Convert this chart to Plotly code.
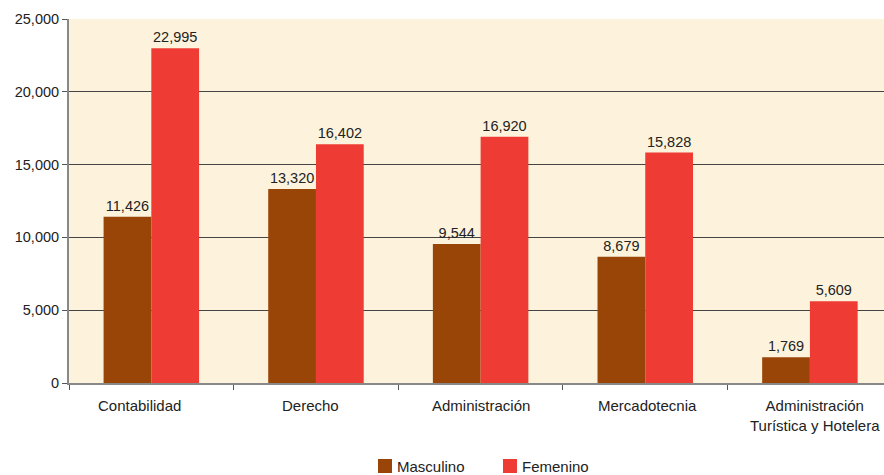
import plotly.graph_objects as go

categories = ["Contabilidad", "Derecho", "Administración", "Mercadotecnia",
              "Administración<br>Turística y Hotelera"]
masculino = [11426, 13320, 9544, 8679, 1769]
femenino = [22995, 16402, 16920, 15828, 5609]
y_ticks = [0, 5000, 10000, 15000, 20000, 25000]
series_names = ["Masculino", "Femenino"]
series_colors = ["#9a4508", "#ee3b33"]
label_shifts = [-12, -5, 0, 2, 5]  # small horizontal offsets of category labels

font_family = "Liberation Sans, Arial, Helvetica, sans-serif"

fig = go.Figure()
for name, vals, col in zip(series_names, [masculino, femenino], series_colors):
    fig.add_trace(go.Bar(
        name=name, x=categories, y=vals,
        marker=dict(color=col, line=dict(width=0)),
        text=[f"{v:,}" for v in vals], textposition="outside",
        textfont=dict(size=14.5, color="#222"), cliponaxis=False,
        showlegend=False,
    ))

W, H = 884, 475
ml, mr, mt, mb = 69, 0, 19, 92
pw, ph = W - ml - mr, H - mt - mb
def px(x):
    return (x - ml) / pw
def py(y):
    return (H - mb - y) / ph

# category labels as annotations
for cat, sh in zip(categories, label_shifts):
    fig.add_annotation(xref="x", yref="paper", x=cat, y=py(395), xshift=sh,
                       xanchor="center", yanchor="top", text=cat, showarrow=False,
                       font=dict(size=15, color="#222"))

# custom legend
legend_items = [(378, series_names[0], series_colors[0]),
                (503, series_names[1], series_colors[1])]
for x0, name, col in legend_items:
    fig.add_shape(type="rect", xref="paper", yref="paper",
                  x0=px(x0), x1=px(x0 + 14), y0=py(473), y1=py(459),
                  fillcolor=col, line=dict(width=0))
    fig.add_annotation(xref="paper", yref="paper", x=px(x0 + 17), y=py(466.5),
                       xanchor="left", yanchor="middle", text=name,
                       showarrow=False, font=dict(size=15, color="#222"))

fig.update_layout(
    width=W, height=H,
    margin=dict(l=ml, r=mr, t=mt, b=mb, autoexpand=False),
    paper_bgcolor="white",
    plot_bgcolor="#fdf3dc",
    barmode="group",
    bargap=0.42,
    bargroupgap=0,
    font=dict(family=font_family, size=14, color="#222"),
    showlegend=False,
    xaxis=dict(
        type="category", range=[-0.5, 4.45],
        tickson="boundaries", ticks="outside", ticklen=5, tickcolor="#555",
        showline=True, linecolor="#888", linewidth=2,
        showgrid=False, showticklabels=False,
    ),
    yaxis=dict(
        range=[0, 25000], tickvals=y_ticks,
        ticktext=[f"{v:,}" for v in y_ticks],
        ticks="outside", ticklen=5, tickcolor="#555",
        showline=True, linecolor="#888", linewidth=2,
        showgrid=True, gridcolor="#444", gridwidth=1,
        zeroline=False, tickfont=dict(size=14.5, color="#222"),
    ),
)

fig.write_html("out.html", config={"displayModeBar": False},
               post_script="document.body.style.margin='0';document.body.style.overflow='hidden';")
